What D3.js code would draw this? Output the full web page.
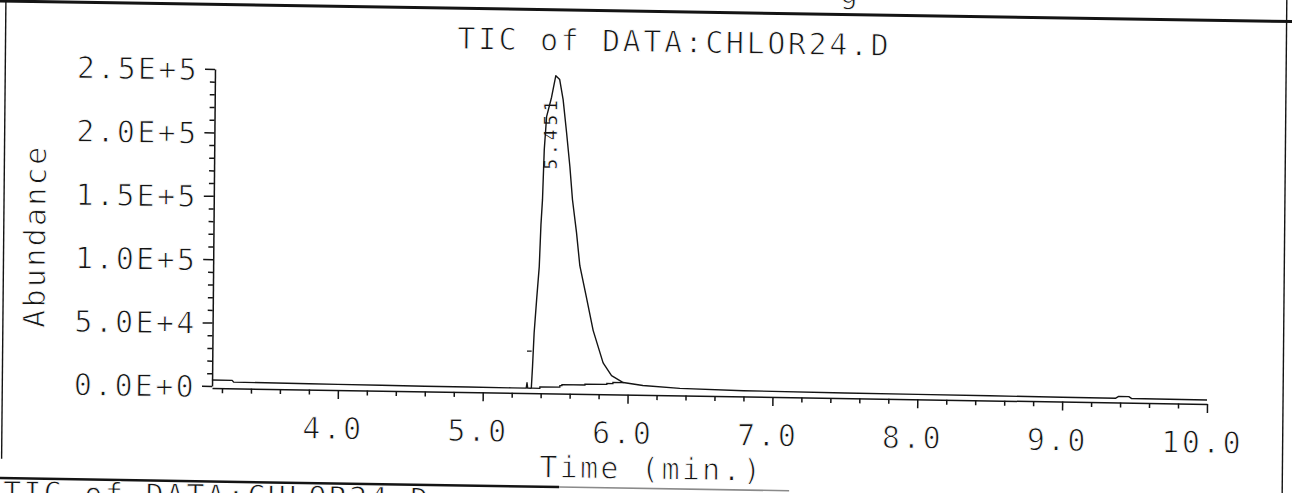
<!DOCTYPE html>
<html><head><meta charset="utf-8">
<script src="https://cdn.jsdelivr.net/npm/d3@7"></script>
<style>
html,body{margin:0;padding:0;background:#fff;}
svg{display:block;}
text{font-family:"DejaVu Sans Mono",monospace;fill:#141414;stroke:#fff;stroke-width:0.9px;}
</style></head><body>
<svg id="chart" width="1292" height="493"></svg>
<script>
// ---------------- data ----------------
const titleText = "TIC of DATA:CHLOR24.D";
const footerText = "TIC of DATA:CHLOR24.D";
const xLabelText = "Time (min.)";
const yLabelText = "Abundance";
const peakLabel = "5.451";

// total ion chromatogram (time in min, abundance)
const ticTime = [3.13, 3.27, 3.28, 3.5, 3.8, 4.0, 4.3, 4.6, 4.9, 5.2, 5.30, 5.305, 5.31, 5.335,
  5.342, 5.351, 5.366, 5.382, 5.391, 5.400, 5.409, 5.423, 5.456, 5.484, 5.511, 5.536, 5.562,
  5.587, 5.607, 5.637, 5.662, 5.710, 5.758, 5.829, 5.888, 5.969, 6.105, 6.36, 6.8, 7.5, 8.0,
  8.5, 9.0, 9.37, 9.39, 9.46, 9.48, 10.0];
const ticAbund = [4700, 4700, 3300, 3200, 3000, 2900, 2700, 2500, 2400, 2300, 2300, 6500, 2300, 2300,
  19300, 46100, 72200, 98300, 131400, 151100, 190600, 216600, 232000, 249000, 246000, 230200, 204200,
  177400, 151400, 125500, 99500, 74400, 48700, 23200, 13200, 7900, 5800, 4000, 3000, 2500, 2300,
  2100, 1900, 1800, 3200, 3200, 1700, 1500];

// integration baseline under the peak
const intTime = [5.339, 5.394, 5.532, 5.546, 5.705, 5.856, 5.898, 5.969];
const intAbund = [2300, 3500, 4700, 5500, 6200, 7000, 7800, 7900];

// peak-start marker
const markTime = [5.303, 5.335];
const markAbund = [31500, 31500];

const xTickValues = [4, 5, 6, 7, 8, 9, 10];
const xTickLabels = ["4.0", "5.0", "6.0", "7.0", "8.0", "9.0", "10.0"];
const yTickValues = [0, 50000, 100000, 150000, 200000, 250000];
const yTickLabels = ["0.0E+0", "5.0E+4", "1.0E+5", "1.5E+5", "2.0E+5", "2.5E+5"];

// ---------------- drawing ----------------
const svg = d3.select("#chart");
const ink = "#141414";
const g = svg.append("g")
  .attr("transform", "translate(212,388) matrix(1,0.016,-0.0094,1,0,0) translate(-212,-388)");

const x = d3.scaleLinear().domain([3.131, 10]).range([212, 1207]);
const y = d3.scaleLinear().domain([0, 250000]).range([386, 69]);

// page frame lines
g.append("line").attr("x1", -20).attr("x2", 1320).attr("y1", 4.4).attr("y2", 4.4)
  .attr("stroke", ink).attr("stroke-width", 3);
g.append("line").attr("x1", 2.3).attr("x2", 2.3).attr("y1", 4).attr("y2", 462)
  .attr("stroke", ink).attr("stroke-width", 1.4);
g.append("line").attr("x1", 1283).attr("x2", 1283).attr("y1", -30).attr("y2", 520)
  .attr("stroke", ink).attr("stroke-width", 1.4);
g.append("line").attr("x1", -20).attr("x2", 560).attr("y1", 481.5).attr("y2", 481.5)
  .attr("stroke", ink).attr("stroke-width", 2.5);
g.append("line").attr("x1", 560).attr("x2", 790).attr("y1", 481.5).attr("y2", 481.5)
  .attr("stroke", "#8a8a8a").attr("stroke-width", 1.6);

// fragment of text above the frame
g.append("text").attr("x", 845).attr("y", -7).attr("font-size", 30).attr("text-anchor", "middle").text("g");

// title
g.append("text").attr("x", 671).attr("y", 45).attr("font-size", 30)
  .attr("text-anchor", "middle").attr("letter-spacing", 2.6).text(titleText);

// footer (cut by the page edge)
g.append("text").attr("x", 4).attr("y", 506).attr("font-size", 30)
  .attr("letter-spacing", 2.3).text(footerText);

// y axis
const yAxis = d3.axisLeft(y).tickValues(yTickValues)
  .tickFormat((d, i) => yTickLabels[i]).tickSize(10).tickSizeOuter(0).tickPadding(8);
const gy = g.append("g").attr("transform", "translate(212,0)").call(yAxis);
const yMinor = d3.range(10000, 250000, 10000).filter(v => v % 50000 !== 0);
g.append("g").attr("transform", "translate(212,0)")
  .call(d3.axisLeft(y).tickValues(yMinor).tickSize(5).tickSizeOuter(0).tickFormat(""))
  .select(".domain").remove();

// x axis
const xAxis = d3.axisBottom(x).tickValues(xTickValues)
  .tickFormat((d, i) => xTickLabels[i]).tickSize(9).tickSizeOuter(0).tickPadding(18);
const gx = g.append("g").attr("transform", "translate(0,388)").call(xAxis);
const xMinor = d3.range(3.2, 10.0, 0.2).filter(v => Math.abs(v - Math.round(v)) > 0.01);
g.append("g").attr("transform", "translate(0,388)")
  .call(d3.axisBottom(x).tickValues(xMinor).tickSize(5).tickSizeOuter(0).tickFormat(""))
  .select(".domain").remove();

g.selectAll(".domain, .tick line").attr("stroke", ink).attr("stroke-width", 1.5);
gy.selectAll(".tick text").attr("font-size", 30).attr("letter-spacing", 2.3)
  .attr("font-family", "DejaVu Sans Mono").attr("fill", ink)
  .attr("x", -16).attr("dy", "0.36em");
gx.selectAll(".tick text").attr("font-size", 30).attr("letter-spacing", 2.3)
  .attr("font-family", "DejaVu Sans Mono").attr("fill", ink)
  .attr("dx", -5).attr("y", 49).attr("dy", 0);

// axis titles
g.append("text").attr("font-size", 30).attr("letter-spacing", 2.3).attr("text-anchor", "middle")
  .attr("transform", "translate(44,239) rotate(-90)").text(yLabelText);
g.append("text").attr("font-size", 30).attr("letter-spacing", 2.3).attr("text-anchor", "middle")
  .attr("x", 652).attr("y", 472).text(xLabelText);

// peak retention label
const iApex = d3.maxIndex(ticAbund);
g.append("text").attr("font-size", 19).attr("font-weight", "bold").attr("letter-spacing", 3.2)
  .attr("text-anchor", "end").attr("stroke", "none").attr("fill", "#000")
  .attr("transform", `translate(${x(ticTime[iApex]) + 2},${y(ticAbund[iApex]) + 21}) rotate(-90)`)
  .text(peakLabel);

// traces
const line = d3.line().x(d => x(d[0])).y(d => y(d[1]));
g.append("path").datum(d3.zip(ticTime, ticAbund)).attr("d", line)
  .attr("fill", "none").attr("stroke", ink).attr("stroke-width", 1.4).attr("stroke-linejoin", "round");
g.append("path").datum(d3.zip(intTime, intAbund)).attr("d", line.curve(d3.curveStepAfter))
  .attr("fill", "none").attr("stroke", ink).attr("stroke-width", 1.3);
g.append("path").datum(d3.zip(markTime, markAbund)).attr("d", d3.line().x(d => x(d[0])).y(d => y(d[1])))
  .attr("fill", "none").attr("stroke", ink).attr("stroke-width", 1.3);
</script>
</body></html>
